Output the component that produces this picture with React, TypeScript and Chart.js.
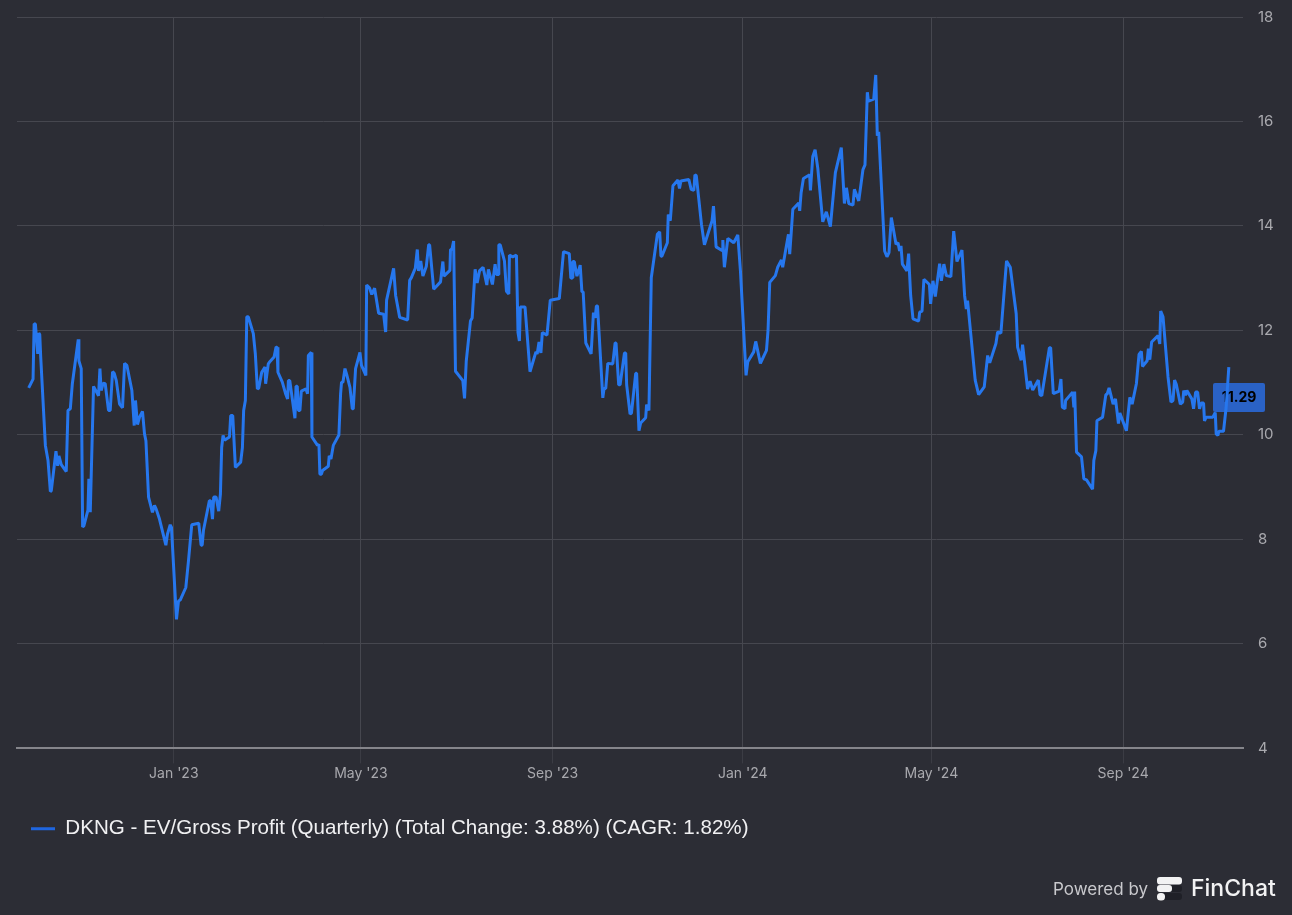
import React, { useEffect, useRef } from "react";
import { Chart, registerables } from "chart.js";

Chart.register(...registerables);

const seriesName = "DKNG - EV/Gross Profit (Quarterly) (Total Change: 3.88%) (CAGR: 1.82%)";

// x = days since 1 Jan 2023
const days = [
  -93.1, -90.3, -89.6, -88.8, -87.3, -86.6, -86, -85.4, -82.4, -80.7, -79.2, -78.6, -75.6, -74.5, -73.7, -72.2, -69,
  -67.9, -66.4, -65.1, -61.3, -60.9, -59.4, -58.5, -57.7, -55.1, -54.5, -53.6, -51.5, -48.3, -47.4, -46.6, -45.3, -44,
  -41.9, -40.8, -39.3, -38.2, -36.9, -34.8, -32.9, -31.6, -30.1, -26.9, -25.4, -24.6, -23.3, -22, -20.1, -18.8, -17.9,
  -16.2, -13.7, -12.4, -11.3, -9.2, -5.1, -4.1, -2.3, -1.5, 1.7, 3, 4.1, 7.7, 9.4, 11.5, 16, 17.5, 18.2, 19, 22.8, 23.6,
  24.8, 25.6, 27.1, 28.8, 29.9, 30.7, 31.6, 32.5, 35.7, 36.5, 37.8, 39.5, 42.9, 44, 44.8, 45.9, 46.8, 47.8, 51, 52.3,
  53.6, 54.5, 56.4, 58.5, 58.9, 60.6, 61.3, 64.3, 65.6, 66.2, 66.8, 69.6, 71.7, 73, 73.5, 74.4, 77.7, 78.4, 79.2, 79.9,
  80.9, 81.8, 84.8, 85.8, 86.3, 88.2, 88.6, 92.2, 93.1, 93.7, 94.7, 95.4, 99.1, 99.7, 100.8, 102.3, 105.9, 107, 107.6,
  108.5, 109.8, 110.8, 113, 114.5, 115.1, 116.6, 119.4, 120.4, 123.2, 123.7, 125.6, 127, 128.8, 131.4, 134.6, 135.9,
  136.5, 141, 142.3, 144.9, 150, 151.3, 152.4, 154.9, 156.2, 157, 158.4, 159.8, 162, 163.5, 164.1, 166.7, 171.1, 172.6,
  173.3, 177.1, 177.5, 178.4, 179.5, 180.7, 185.4, 186.5, 187.6, 190.3, 191.4, 193.3, 194.6, 196.1, 198.4, 200.8, 201.8,
  204.4, 206.1, 207, 208, 208.5, 209.4, 212.1, 213.4, 214.9, 215.3, 217.4, 219.8, 220.8, 221.7, 222.3, 225.3, 228.5,
  232.3, 233.1, 234.3, 235.5, 236.4, 239.4, 241.5, 247.3, 250, 253.7, 254.7, 255.9, 256, 256.9, 258.6, 260.7, 261.8,
  262.6, 264.3, 267.7, 269.2, 270.3, 271.1, 271.8, 275.2, 276, 277.1, 278.4, 281.6, 283.1, 283.7, 285.4, 286.3, 289.1,
  289.9, 290.5, 292.7, 293.6, 296.3, 296.9, 298.4, 299.5, 302.7, 303.3, 304.8, 306.3, 310.2, 311.7, 312.5, 313.1, 316.6,
  317.2, 318.5, 320.2, 323.4, 324.4, 325.3, 330.4, 331.9, 333.6, 334.3, 335.2, 338.5, 340.4, 345.3, 346.2, 347.9, 351.7,
  352.2, 353.2, 355.4, 359.2, 361.8, 363.5, 367.1, 368.2, 372, 373.3, 376.3, 380.2, 381.2, 382.3, 385.9, 387.4, 389.8,
  390.6, 392.4, 394.3, 395.1, 396, 397.1, 400.9, 401.5, 402.4, 403.9, 407.9, 408.4, 409.9, 411.4, 413.1, 416.3, 418.6,
  421.2, 424.4, 428.2, 430.2, 431.5, 433, 435.7, 436.6, 439.4, 442.1, 443.4, 444.9, 445.6, 449, 450.3, 451.3, 452.2,
  456, 457.5, 458.8, 460.3, 463.3, 464.6, 465.6, 466.5, 467.4, 470.3, 471.4, 472, 472.7, 474.2, 477.8, 478.5, 480, 481.2,
  484.7, 485.5, 487, 488.5, 491.3, 492.4, 494, 495.6, 498.5, 500.3, 502.4, 505.6, 507.3, 508.4, 509.2, 514.1, 516.3,
  519.9, 522.1, 523.4, 527.4, 528.5, 530.6, 534.2, 536.6, 540.4, 541.3, 543.6, 544.5, 547.7, 549.3, 551, 554.6, 555.7,
  556.8, 561.7, 562.5, 564.2, 568, 569.1, 570, 571.7, 572.1, 576.6, 577.4, 577.9, 579.1, 582.3, 583.8, 585.5, 589.4,
  590.2, 591.5, 592.2, 595.8, 597.9, 598.7, 600, 602.6, 604.1, 606, 606.9, 611.1, 613.3, 614.8, 617.5, 619.2, 620.7,
  621.4, 624.4, 625.2, 626.1, 627.3, 631.4, 632.5, 633.1, 634.6, 637.8, 639.7, 641, 642, 643.1, 645.7, 647.2, 647.9,
  649, 649.9, 653.1, 654.2, 655.5, 656.8, 658, 659.1, 660.6, 661.2, 662.3, 666.6, 668.1, 668.7, 669.8, 670.4, 673.4,
  675.1, 676.8,
];

const ratio = [
  10.9, 11.07, 12.13, 12.12, 11.55, 11.95, 11.92, 11.5, 9.8, 9.51, 8.92, 8.93, 9.69, 9.41, 9.6, 9.43, 9.3,
  10.47, 10.5, 10.98, 11.83, 11.42, 11.27, 8.24, 8.26, 8.56, 9.16, 8.52, 10.93, 10.75, 11.27, 10.85, 10.99, 10.98,
  10.47, 10.47, 11.21, 11.18, 11.04, 10.59, 10.52, 11.37, 11.33, 10.85, 10.18, 10.66, 10.2, 10.34, 10.45, 10.02, 9.89,
  8.81, 8.52, 8.65, 8.58, 8.39, 7.89, 8.1, 8.28, 8.23, 6.47, 6.82, 6.84, 7.08, 7.59, 8.28, 8.31, 7.89, 7.89, 8.17, 8.74, 8.74,
  8.39, 8.81, 8.81, 8.54, 8.87, 9.76, 9.99, 9.9, 9.96, 10.37, 10.37, 9.38, 9.48, 9.76, 10.47, 10.66, 12.26, 12.26, 11.94, 11.55,
  10.88, 10.9, 11.2, 11.3, 10.98, 11.36, 11.39, 11.49, 11.68, 11.68, 11.2, 11.01, 10.79, 10.69, 11.04, 11.04, 10.32, 10.93, 10.93, 10.47,
  10.47, 10.84, 10.88, 10.79, 11.52, 11.58, 9.96, 9.8, 9.82, 9.25, 9.25, 9.32, 9.4, 9.6, 9.54, 9.8, 10, 10.79, 11.01,
  11.01, 11.27, 11.17, 10.91, 10.5, 10.5, 11.27, 11.58, 11.33, 11.14, 12.87, 12.81, 12.69, 12.81, 12.33, 12.31, 11.97,
  12.58, 13.19, 12.67, 12.25, 12.2, 12.96, 13.01, 13.19, 13.55, 13.14, 13.33, 13.04, 13.23, 13.64, 13.64, 12.79, 12.93, 13.32,
  13.04, 13.15, 13.55, 13.55, 13.71, 11.22, 11.04, 10.7, 11.41, 12.18, 12.24, 13.17, 12.91, 13.14, 13.21, 12.87, 13.17,
  12.88, 13.27, 13.07, 13.07, 13.64, 13.64, 13.33, 12.75, 12.7, 13.44, 13.41, 13.44, 11.96, 11.8, 12.45, 12.45, 11.21,
  11.59, 11.55, 11.78, 11.57, 11.96, 11.91, 12.58, 12.61, 13.51, 13.47, 13, 13.01, 13.32, 13.32, 13.04, 13.25, 12.74,
  12.74, 11.76, 11.55, 12.34, 12.24, 12.47, 12.47, 10.71, 10.89, 10.89, 11.37, 11.36, 11.76, 11.76, 10.96, 10.96, 11.57,
  11.57, 10.96, 10.4, 10.42, 11.18, 11.18, 10.08, 10.23, 10.33, 10.58, 10.47, 13.01, 13.84, 13.89, 13.42, 13.42, 13.68,
  14.22, 14.1, 14.77, 14.88, 14.72, 14.86, 14.89, 14.7, 14.68, 14.98, 14.96, 14.03, 13.64, 14.1, 14.38, 13.6, 13.53,
  13.73, 13.21, 13.76, 13.68, 13.83, 13.14, 11.14, 11.4, 11.59, 11.79, 11.37, 11.62, 12, 12.92, 13.05, 13.21, 13.35,
  13.21, 13.52, 13.84, 13.46, 13.84, 14.32, 14.44, 14.29, 14.63, 14.91, 14.98, 14.68, 15.33, 15.46, 15.11, 14.08, 14.27,
  13.99, 15.02, 15.5, 14.43, 14.73, 14.43, 14.4, 14.7, 14.48, 15.08, 15.17, 16.56, 16.39, 16.43, 16.89, 15.73, 15.8,
  13.52, 13.41, 13.49, 14.16, 13.65, 13.68, 13.52, 13.62, 13.27, 13.14, 13.47, 13.08, 12.67, 12.22, 12.18, 12.35, 12.37, 12.98,
  12.88, 12.51, 12.95, 12.65, 13.28, 12.95, 13.27, 13.05, 13.03, 13.9, 13.32, 13.54, 12.67, 12.41, 12.57, 11.05, 10.77,
  10.92, 11.52, 11.38, 11.75, 11.97, 11.95, 13.33, 13.21, 12.32, 11.68, 11.43, 11.73, 10.88, 11.03, 10.86, 11.05, 10.77,
  10.75, 11.67, 11.67, 10.79, 10.84, 11.07, 10.53, 10.5, 10.66, 10.82, 10.53, 10.83, 9.67, 9.58, 9.16, 9.14, 8.96,
  9.51, 9.7, 10.27, 10.34, 10.77, 10.78, 10.9, 10.59, 10.69, 10.22, 10.42, 10.08, 10.72, 10.59, 10.98, 11.54, 11.6,
  11.31, 11.42, 11.65, 11.44, 11.78, 11.9, 11.74, 12.37, 12.26, 11.11, 10.63, 10.66, 11.05, 10.97, 10.59, 10.63, 10.85,
  10.76, 10.85, 10.69, 10.5, 10.82, 10.82, 10.5, 10.61, 10.61, 10.27, 10.34, 10.34, 10.43, 10.02, 9.99, 10.07, 10.07,
  10.53, 11.3,
];

const xTickDays = [0, 120, 243, 365, 486, 609];
const xTickLabels = ["Jan '23", "May '23", "Sep '23", "Jan '24", "May '24", "Sep '24"];
const lastLabel = "11.29";

const BG = "#2c2d35";
const GRID = "#46474f";
const TICK_TEXT = "#a9a9ae";
const LINE = "#2677ee";

// value badge and the "Powered by" mark, both outside anything chart.js draws by itself
const badgePlugin = {
  id: "badge",
  beforeDatasetsDraw(chart: Chart) {
    const ctx = chart.ctx;
    ctx.save();
    ctx.fillStyle = "#2a62c6";
    ctx.beginPath();
    ctx.roundRect(1213, 383, 52, 29, 2);
    ctx.fill();
    ctx.fillStyle = "#000000";
    ctx.font = "bold 14px Inter";
    ctx.textAlign = "center";
    ctx.textBaseline = "middle";
    ctx.fillText(lastLabel, 1239, 398);
    ctx.restore();
  },
};

const brandPlugin = {
  id: "brand",
  afterDraw(chart: Chart) {
    const ctx = chart.ctx;
    ctx.save();
    ctx.textBaseline = "middle";
    ctx.textAlign = "left";
    ctx.fillStyle = "#c9c9cd";
    ctx.font = "17px Inter";
    ctx.fillText("Powered by", 1053, 889.5);
    ctx.fillStyle = "#f2f2f3";
    ctx.font = "500 23px Inter";
    ctx.fillText("FinChat", 1191, 889);
    // logo bars
    ctx.fillStyle = "#1f2027";
    ctx.beginPath();
    ctx.roundRect(1165, 885, 17, 7, 3);
    ctx.roundRect(1160, 893, 22, 7, 3);
    ctx.fill();
    ctx.fillStyle = "#f2f2f3";
    ctx.beginPath();
    ctx.roundRect(1157, 877, 25, 7.5, 3);
    ctx.roundRect(1157, 885, 15, 7, 3);
    ctx.roundRect(1157, 893, 8, 7.5, 3.5);
    ctx.fill();
    ctx.restore();
  },
};

export default function App() {
  const chartRef = useRef<HTMLCanvasElement>(null);

  useEffect(() => {
    if (!chartRef.current) return;
    document.body.style.background = BG;

    const chart = new Chart(chartRef.current, {
      type: "line",
      data: {
        datasets: [
          {
            label: seriesName,
            data: days.map((d, i) => ({ x: d, y: ratio[i] })),
            borderColor: LINE,
            backgroundColor: "#1f66e0",
            borderWidth: 3,
            pointRadius: 0,
            tension: 0,
            borderJoinStyle: "bevel",
          },
        ],
      },
      options: {
        responsive: false,
        animation: false,
        layout: { padding: { left: 17, top: 17, right: 0, bottom: 66 } },
        plugins: {
          tooltip: { enabled: false },
          legend: {
            position: "bottom",
            align: "start",
            labels: {
              color: "#f0f0f2",
              boxWidth: 24,
              boxHeight: 3,
              padding: 14,
              font: { family: "Liberation Sans", size: 20.6 },
              generateLabels: () => [
                { text: seriesName, fillStyle: "#1f66e0", strokeStyle: "#1f66e0", lineWidth: 0, fontColor: "#f0f0f2" },
              ],
            },
          },
        },
        scales: {
          x: {
            type: "linear",
            min: -100.6,
            max: 685.9,
            afterBuildTicks: (scale: any) => {
              scale.ticks = xTickDays.map((value) => ({ value }));
            },
            afterFit: (scale: any) => {
              scale.height = 56;
            },
            grid: { color: GRID, lineWidth: 1, tickLength: 15, tickColor: "#3b3c44" },
            border: { color: "#85858b", width: 2 },
            ticks: {
              color: TICK_TEXT,
              font: { family: "Inter", size: 14 },
              padding: 2,
              autoSkip: false,
              maxRotation: 0,
              callback: (value: any) => xTickLabels[xTickDays.indexOf(value)],
            },
          },
          y: {
            position: "right",
            min: 4,
            max: 18,
            afterFit: (scale: any) => {
              scale.width = 49;
              // tick padding would otherwise push the plot down from the top edge
              scale.paddingTop = 0;
              scale.paddingBottom = 0;
            },
            grid: { color: GRID, lineWidth: 1, drawTicks: false },
            border: { display: false },
            ticks: {
              stepSize: 2,
              color: TICK_TEXT,
              font: { family: "Inter", size: 15 },
              padding: 15,
            },
          },
        },
      },
      plugins: [badgePlugin, brandPlugin],
    } as any);

    return () => chart.destroy();
  }, []);

  return (
    <div style={{ position: "absolute", left: 0, top: 0, width: 1292, height: 915, background: BG }}>
      <canvas ref={chartRef} width={1292} height={915} style={{ display: "block" }} />
    </div>
  );
}
